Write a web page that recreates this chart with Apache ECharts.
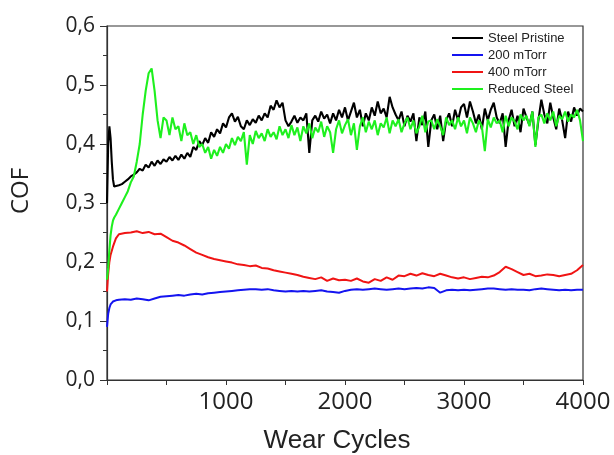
<!DOCTYPE html>
<html><head><meta charset="utf-8">
<script src="https://cdn.jsdelivr.net/npm/echarts@6/dist/echarts.min.js"></script>
<style>html,body{margin:0;padding:0;background:#fff}#c{width:614px;height:455px}</style>
</head><body><div id="c"></div>
<script>
// Fine cycle grid (Steel Pristine, Reduced Steel)
var cyclesFine = [0,10,20,30,40,50,60,75,
 100,125,150,175,200,225,250,275,300,325,350,375,400,425,450,475,
 500,525,550,575,600,625,650,675,700,725,750,775,800,825,850,875,900,925,950,975,
 1000,1025,1050,1075,1100,1125,1150,1175,1200,1225,1250,1275,1300,1325,1350,1375,1400,1425,1450,1475,
 1500,1525,1550,1575,1600,1625,1650,1675,1700,1725,1750,1775,1800,1825,1850,1875,1900,1925,1950,1975,
 2000,2025,2050,2075,2100,2125,2150,2175,2200,2225,2250,2275,2300,2325,2350,2375,2400,2425,2450,2475,
 2500,2525,2550,2575,2600,2625,2650,2675,2700,2725,2750,2775,2800,2825,2850,2875,2900,2925,2950,2975,
 3000,3025,3050,3075,3100,3125,3150,3175,3200,3225,3250,3275,3300,3325,3350,3375,3400,3425,3450,3475,
 3500,3525,3550,3575,3600,3625,3650,3675,3700,3725,3750,3775,3800,3825,3850,3875,3900,3925,3950,3975,
 4000];
var steelPristine = [0.30,0.40,0.43,0.41,0.37,0.34,0.328,0.325,
 0.33,0.332,0.336,0.34,0.345,0.348,0.352,0.358,0.355,0.365,0.36,0.37,0.363,0.372,0.366,0.374,
 0.37,0.378,0.372,0.38,0.373,0.382,0.375,0.385,0.378,0.395,0.39,0.405,0.398,0.41,0.402,0.42,0.412,0.425,0.418,0.435,
 0.428,0.445,0.452,0.438,0.446,0.43,0.425,0.44,0.432,0.442,0.436,0.448,0.44,0.452,0.445,0.465,0.458,0.474,0.462,0.47,
 0.44,0.43,0.438,0.448,0.436,0.445,0.44,0.452,0.385,0.44,0.448,0.438,0.455,0.443,0.45,0.435,0.452,0.44,0.458,0.445,
 0.462,0.44,0.455,0.47,0.445,0.458,0.43,0.452,0.44,0.462,0.448,0.472,0.452,0.46,0.445,0.48,0.462,0.45,0.44,0.455,
 0.43,0.448,0.438,0.452,0.405,0.445,0.432,0.455,0.395,0.44,0.45,0.425,0.448,0.405,0.44,0.452,0.43,0.458,0.44,0.462,
 0.468,0.445,0.472,0.455,0.435,0.45,0.425,0.46,0.44,0.458,0.47,0.445,0.435,0.452,0.395,0.44,0.458,0.43,0.448,0.42,
 0.46,0.445,0.432,0.455,0.398,0.44,0.475,0.45,0.435,0.47,0.445,0.425,0.46,0.44,0.41,0.455,0.438,0.462,0.448,0.46,
 0.455];
var reducedSteel = [0.17,0.19,0.22,0.245,0.26,0.27,0.275,0.28,
 0.29,0.30,0.31,0.32,0.335,0.345,0.37,0.40,0.45,0.49,0.52,0.528,0.49,0.44,0.41,0.445,
 0.44,0.415,0.445,0.425,0.43,0.405,0.435,0.415,0.42,0.40,0.415,0.395,0.40,0.385,0.395,0.375,0.39,0.38,0.395,0.385,
 0.40,0.392,0.41,0.398,0.412,0.405,0.42,0.365,0.415,0.40,0.422,0.41,0.418,0.405,0.425,0.412,0.42,0.408,0.43,0.415,
 0.425,0.41,0.432,0.415,0.428,0.405,0.43,0.418,0.435,0.41,0.428,0.42,0.438,0.412,0.43,0.42,0.385,0.425,0.44,0.418,
 0.432,0.442,0.415,0.435,0.39,0.43,0.445,0.42,0.438,0.425,0.44,0.415,0.435,0.428,0.445,0.418,0.44,0.43,0.442,0.42,
 0.435,0.445,0.425,0.44,0.418,0.43,0.448,0.42,0.438,0.44,0.425,0.442,0.43,0.415,0.445,0.432,0.44,0.425,0.445,0.43,
 0.44,0.418,0.445,0.435,0.42,0.44,0.43,0.388,0.442,0.428,0.445,0.435,0.44,0.42,0.448,0.43,0.445,0.438,0.425,0.45,
 0.44,0.448,0.43,0.455,0.395,0.445,0.45,0.435,0.452,0.44,0.455,0.43,0.448,0.442,0.455,0.438,0.45,0.445,0.458,0.44,
 0.405];
// Coarse cycle grid (200 mTorr, 400 mTorr)
var cyclesCoarse = [0,10,20,30,50,75,100,
 150,200,250,300,350,400,450,
 500,550,600,650,700,750,800,850,900,950,
 1000,1050,1100,1150,1200,1250,1300,1350,1400,1450,
 1500,1550,1600,1650,1700,1750,1800,1850,1900,1950,
 2000,2050,2100,2150,2200,2250,2300,2350,2400,2450,
 2500,2550,2600,2650,2700,2750,2800,2850,2900,2950,
 3000,3050,3100,3150,3200,3250,3300,3350,3400,3450,
 3500,3550,3600,3650,3700,3750,3800,3850,3900,3950,
 4000];
var mTorr400 = [0.15,0.18,0.2,0.212,0.226,0.24,0.247,
 0.249,0.25,0.252,0.249,0.251,0.247,0.248,
 0.242,0.236,0.233,0.228,0.222,0.216,0.212,0.208,0.205,0.203,
 0.201,0.199,0.196,0.195,0.193,0.194,0.19,0.189,0.186,0.184,
 0.182,0.18,0.178,0.175,0.173,0.171,0.174,0.168,0.172,0.169,
 0.17,0.168,0.172,0.167,0.165,0.171,0.168,0.174,0.17,0.177,
 0.176,0.18,0.177,0.181,0.178,0.176,0.18,0.177,0.174,0.172,
 0.174,0.171,0.173,0.175,0.174,0.177,0.183,0.192,0.188,0.183,
 0.178,0.18,0.176,0.177,0.179,0.178,0.176,0.178,0.18,0.186,
 0.195];
var mTorr200 = [0.09,0.112,0.122,0.128,0.133,0.135,0.136,
 0.137,0.136,0.138,0.137,0.135,0.138,0.141,
 0.142,0.143,0.144,0.143,0.145,0.146,0.145,0.147,0.148,0.149,
 0.15,0.151,0.152,0.153,0.154,0.154,0.153,0.154,0.152,0.151,
 0.15,0.151,0.15,0.151,0.15,0.151,0.152,0.15,0.149,0.148,
 0.151,0.153,0.154,0.153,0.154,0.155,0.154,0.153,0.154,0.155,
 0.154,0.155,0.156,0.155,0.157,0.156,0.148,0.152,0.153,0.152,
 0.153,0.152,0.153,0.154,0.155,0.155,0.154,0.153,0.154,0.153,
 0.153,0.152,0.154,0.155,0.154,0.153,0.152,0.153,0.152,0.153,
 0.153];
var seriesNames = ['Steel Pristine','200 mTorr','400 mTorr','Reduced Steel'];
var seriesColors = ['#000000','#1414f0','#f01414','#1ef01e'];
var seriesWidths = [2.1, 2, 2, 2.1];
var xTitle = 'Wear Cycles', yTitle = 'COF';

function zip(xs, ys){ return xs.map(function(x,i){ return [x, ys[i]]; }); }
var dataSets = [zip(cyclesFine, steelPristine), zip(cyclesCoarse, mTorr200), zip(cyclesCoarse, mTorr400), zip(cyclesFine, reducedSteel)];

var chart = echarts.init(document.getElementById('c'), null, {renderer:'canvas'});
chart.setOption({
  animation:false,
  backgroundColor:'#ffffff',
  grid:{left:107, right:31, top:26, bottom:75, show:true, borderColor:'#333', borderWidth:1.2, backgroundColor:'transparent'},
  legend:{
    orient:'vertical', left:452, top:31, padding:0, itemGap:3, itemWidth:31, itemHeight:2,
    icon:'rect', data:seriesNames,
    textStyle:{fontFamily:'Liberation Sans', fontSize:13, color:'#222', lineHeight:14}
  },
  xAxis:{
    type:'value', min:0, max:4000, interval:500,
    axisLine:{onZero:false, lineStyle:{color:'#333', width:1.2}},
    axisTick:{inside:false, length:5, lineStyle:{color:'#333'}},
    splitLine:{show:false},
    axisLabel:{fontFamily:'Open Sans', fontSize:24, color:'#222', margin:10,
      formatter:function(v){ return (v>0 && v%1000===0) ? String(v) : ''; }}
  },
  yAxis:{
    type:'value', min:0, max:0.6, interval:0.1,
    axisLine:{show:true, onZero:false, lineStyle:{color:'#333', width:1.2}},
    axisTick:{show:true, inside:false, length:7, lineStyle:{color:'#333'}},
    minorTick:{show:true, splitNumber:2, length:4, lineStyle:{color:'#333'}},
    splitLine:{show:false},
    axisLabel:{fontFamily:'Open Sans', fontSize:21, color:'#222', margin:12,
      formatter:function(v){ return v.toFixed(1).replace('.', ','); }}
  },
  graphic:[
    {type:'text', x:21, y:191, rotation:Math.PI/2, style:{text:yTitle, font:'24px "Open Sans"', fill:'#222', align:'center', verticalAlign:'middle'}},
    {type:'text', x:337, y:441, style:{text:xTitle, font:'26px "Liberation Sans"', fill:'#222', align:'center', verticalAlign:'middle'}}
  ],
  series: seriesNames.map(function(n,i){
    return {name:n, type:'line', data:dataSets[i], showSymbol:false, symbol:'none',
      lineStyle:{color:seriesColors[i], width:seriesWidths[i]}, itemStyle:{color:seriesColors[i]}, z:2+i};
  })
});
</script></body></html>
